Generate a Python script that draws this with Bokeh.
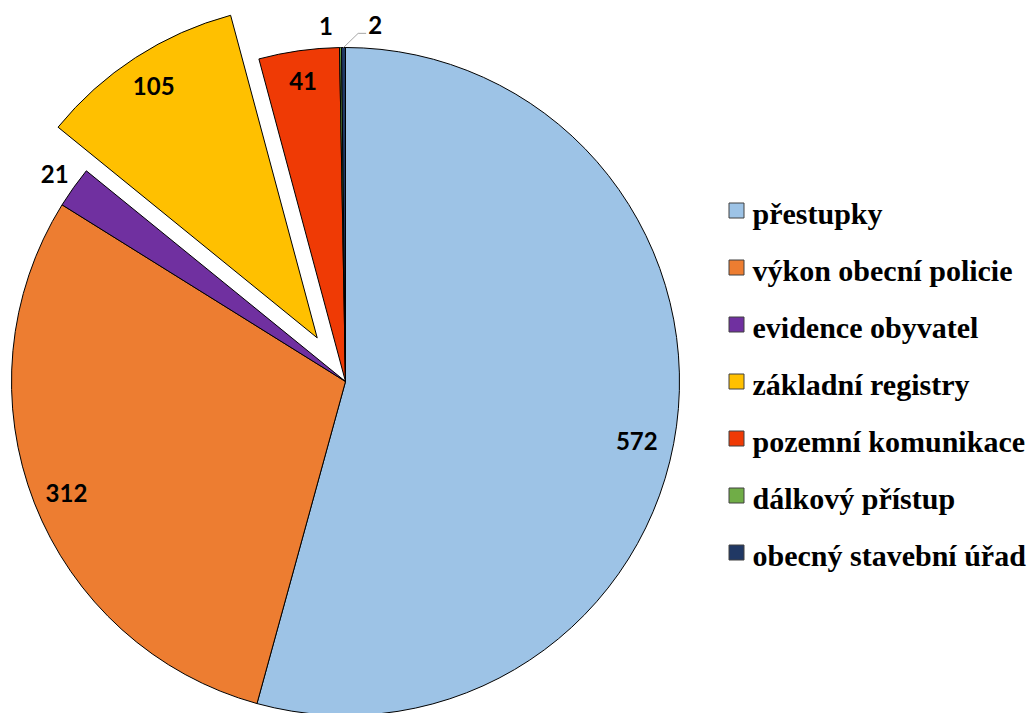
import numpy as np
from bokeh.plotting import figure
from bokeh.models import Range1d, ColumnDataSource
from bokeh.core.properties import value
from bokeh.embed import file_html
from bokeh.resources import INLINE

# ---- data ----
categories = ["přestupky", "výkon obecní policie", "evidence obyvatel",
              "základní registry", "pozemní komunikace", "dálkový přístup",
              "obecný stavební úřad"]
counts = [572, 312, 21, 105, 41, 1, 2]
labels = ["572", "312", "21", "105", "41", "1", "2"]

# ---- style ----
colors = ["#9DC3E6", "#ED7D31", "#7030A0", "#FFC000", "#EF3A05", "#70AD47", "#203864"]
explode = [0, 0, 0, 52, 0, 0, 0]                     # px offset along mid-angle
label_r = [0.89, 0.90, 1.07, 0.90, 0.91, 1.066, 1.07]  # radial position (fraction of R)
label_dang = [3.8, -0.5, 0.0, 0.0, 0.0, -2.3, 5.1]    # angular tweak (deg)

W, H = 1033, 713
CX, CY, R = 345, H - 381, 334

p = figure(width=W, height=H, output_backend="svg", toolbar_location=None,
           x_range=Range1d(0, W), y_range=Range1d(0, H), min_border=0)
p.axis.visible = False
p.grid.visible = False
p.outline_line_color = None
p.background_fill_color = "white"

vals = np.array(counts, dtype=float)
frac = vals / vals.sum()
ends = np.cumsum(frac) * 360.0
starts = ends - frac * 360.0
mids = (starts + ends) / 2.0

xs, ys = [], []
for m, e in zip(mids, explode):
    t = np.radians(m)
    xs.append(CX + e * np.sin(t))
    ys.append(CY + e * np.cos(t))

src = ColumnDataSource(dict(
    x=xs, y=ys,
    start=list(np.pi / 2 - np.radians(starts)),
    end=list(np.pi / 2 - np.radians(ends)),
    color=colors, cat=categories))
p.wedge(x="x", y="y", radius=R, start_angle="start", end_angle="end",
        direction="clock", fill_color="color", line_color="black",
        line_width=1, source=src)

# data labels
lx, ly = [], []
for i, m in enumerate(mids):
    t = np.radians(m + label_dang[i])
    lx.append(xs[i] + label_r[i] * R * np.sin(t))
    ly.append(ys[i] + label_r[i] * R * np.cos(t))
p.text(x=lx, y=ly, text=labels, text_font=value("Lato"), text_font_style="bold",
       text_font_size="24px", text_align="center", text_baseline="middle",
       text_color="black")

# leader line for the smallest slice label ("2")
i2 = 6
t2 = np.radians(mids[i2])
sx, sy = CX + R * np.sin(t2), CY + R * np.cos(t2)
p.line(x=[sx, lx[i2] - 17, lx[i2] - 9], y=[sy, ly[i2] - 8, ly[i2] - 8],
       line_color="#A6A6A6", line_width=1)

# legend
leg_x = 736
leg_y0 = H - 210
step = 57
sq_y = [leg_y0 - step * k for k in range(len(categories))]
p.rect(x=[leg_x] * len(categories), y=sq_y, width=15, height=15,
       fill_color=colors, line_color="#404040", line_width=1)
p.text(x=[leg_x + 16] * len(categories), y=[yy - 3 for yy in sq_y], text=categories,
       text_font=value("Liberation Serif"), text_font_style="bold",
       text_font_size="30px", text_align="left", text_baseline="middle",
       text_color="black")

open("out.html", "w").write(file_html(p, INLINE))
